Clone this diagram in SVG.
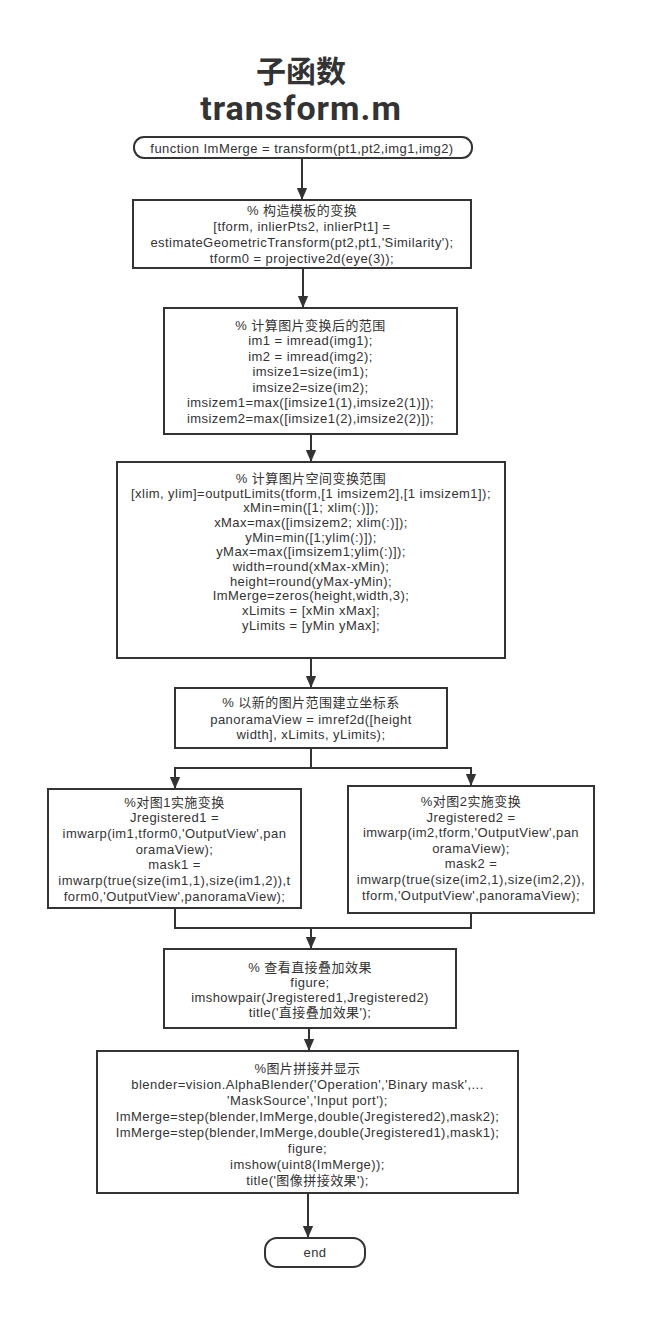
<svg xmlns="http://www.w3.org/2000/svg" width="656" height="1328" viewBox="0 0 656 1328">
<defs>
<marker id="ah" markerUnits="userSpaceOnUse" markerWidth="12" markerHeight="14" viewBox="0 0 14 12" refX="14" refY="6" orient="auto">
<path d="M0,0 L14,6 L0,12 Z" fill="#333"/>
</marker>
</defs>
<style>
.box{fill:#fff;stroke:#333;stroke-width:2}
.t{font-family:"Liberation Sans","Noto Sans CJK SC",sans-serif;font-size:13px;letter-spacing:0.45px;fill:#333;text-anchor:middle}
.title{font-weight:bold;fill:#333;text-anchor:middle}
.c{fill:none;stroke:#333;stroke-width:2}
</style>
<rect width="656" height="1328" fill="#fff"/>
<g id="title">
<text class="title" x="301" y="81.5" font-size="30" font-family="'Liberation Sans','Noto Sans CJK SC',sans-serif">子函数</text>
<text class="title" x="301" y="120" font-size="34" letter-spacing="1" font-family="Roboto,'Noto Sans',sans-serif">transform.m</text>
</g>
<g id="connectors">
<path class="c" d="M302,158 V200" marker-end="url(#ah)"/>
<path class="c" d="M303,268 V308" marker-end="url(#ah)"/>
<path class="c" d="M311,434 V462" marker-end="url(#ah)"/>
<path class="c" d="M311,658 V688" marker-end="url(#ah)"/>
<path class="c" d="M311,748 V768 H175 V789" marker-end="url(#ah)"/>
<path class="c" d="M311,768 H471 V786" marker-end="url(#ah)"/>
<path class="c" d="M175,908 V928 H471 V913"/>
<path class="c" d="M311,928 V949" marker-end="url(#ah)"/>
<path class="c" d="M309,1028 V1051" marker-end="url(#ah)"/>
<path class="c" d="M308,1193 V1238" marker-end="url(#ah)"/>
</g>
<g id="start">
<rect class="box" x="134" y="137" width="338" height="21" rx="10"/>
<text class="t" x="302" y="152.5">function ImMerge = transform(pt1,pt2,img1,img2)</text>
</g>
<g id="box2">
<rect class="box" x="133" y="200" width="338" height="68"/>
<text class="t" x="302" y="214.5">% 构造模板的变换</text>
<text class="t" x="302" y="230.5">[tform,  inlierPts2, inlierPt1] =</text>
<text class="t" x="302" y="246.5">estimateGeometricTransform(pt2,pt1,'Similarity');</text>
<text class="t" x="302" y="262.5">tform0 = projective2d(eye(3));</text>
</g>
<g id="box3">
<rect class="box" x="164" y="308" width="293" height="126"/>
<text class="t" x="310.5" y="329.5">% 计算图片变换后的范围</text>
<text class="t" x="310.5" y="345">im1 = imread(img1);</text>
<text class="t" x="310.5" y="360.5">im2 = imread(img2);</text>
<text class="t" x="310.5" y="376">imsize1=size(im1);</text>
<text class="t" x="310.5" y="391.5">imsize2=size(im2);</text>
<text class="t" x="310.5" y="407">imsizem1=max([imsize1(1),imsize2(1)]);</text>
<text class="t" x="310.5" y="422.5">imsizem2=max([imsize1(2),imsize2(2)]);</text>
</g>
<g id="box4">
<rect class="box" x="117" y="462" width="388" height="196"/>
<text class="t" x="311" y="482.8">% 计算图片空间变换范围</text>
<text class="t" x="311" y="497.5">[xlim, ylim]=outputLimits(tform,[1 imsizem2],[1 imsizem1]);</text>
<text class="t" x="311" y="512.2">xMin=min([1; xlim(:)]);</text>
<text class="t" x="311" y="526.9">xMax=max([imsizem2; xlim(:)]);</text>
<text class="t" x="311" y="541.6">yMin=min([1;ylim(:)]);</text>
<text class="t" x="311" y="556.3">yMax=max([imsizem1;ylim(:)]);</text>
<text class="t" x="311" y="571">width=round(xMax-xMin);</text>
<text class="t" x="311" y="585.7">height=round(yMax-yMin);</text>
<text class="t" x="311" y="600.4">ImMerge=zeros(height,width,3);</text>
<text class="t" x="311" y="615.1">xLimits = [xMin xMax];</text>
<text class="t" x="311" y="629.8">yLimits = [yMin yMax];</text>
</g>
<g id="box5">
<rect class="box" x="175" y="688" width="272" height="60"/>
<text class="t" x="311" y="707.2">% 以新的图片范围建立坐标系</text>
<text class="t" x="311" y="723.5">panoramaView = imref2d([height</text>
<text class="t" x="311" y="739">width], xLimits, yLimits);</text>
</g>
<g id="box6">
<rect class="box" x="48" y="789" width="253" height="119"/>
<text class="t" x="174.5" y="806.5">%对图1实施变换</text>
<text class="t" x="174.5" y="822.2">Jregistered1 =</text>
<text class="t" x="174.5" y="837.9">imwarp(im1,tform0,'OutputView',pan</text>
<text class="t" x="174.5" y="853.6">oramaView);</text>
<text class="t" x="174.5" y="869.3">mask1 =</text>
<text class="t" x="174.5" y="885">imwarp(true(size(im1,1),size(im1,2)),t</text>
<text class="t" x="174.5" y="900.7">form0,'OutputView',panoramaView);</text>
</g>
<g id="box7">
<rect class="box" x="348" y="786" width="246" height="127"/>
<text class="t" x="471" y="806.2">%对图2实施变换</text>
<text class="t" x="471" y="821.8">Jregistered2 =</text>
<text class="t" x="471" y="837.3">imwarp(im2,tform,'OutputView',pan</text>
<text class="t" x="471" y="852.9">oramaView);</text>
<text class="t" x="471" y="868.4">mask2 =</text>
<text class="t" x="471" y="884">imwarp(true(size(im2,1),size(im2,2)),</text>
<text class="t" x="471" y="899.5">tform,'OutputView',panoramaView);</text>
</g>
<g id="box8">
<rect class="box" x="164" y="949" width="292" height="79"/>
<text class="t" x="310" y="971.5">% 查看直接叠加效果</text>
<text class="t" x="310" y="986.5">figure;</text>
<text class="t" x="310" y="1001.5">imshowpair(Jregistered1,Jregistered2)</text>
<text class="t" x="310" y="1016.5">title('直接叠加效果');</text>
</g>
<g id="box9">
<rect class="box" x="97" y="1051" width="421" height="142"/>
<text class="t" x="307.5" y="1072.5">%图片拼接并显示</text>
<text class="t" x="307.5" y="1088.5">blender=vision.AlphaBlender('Operation','Binary mask',...</text>
<text class="t" x="307.5" y="1104.5">'MaskSource','Input port');</text>
<text class="t" x="307.5" y="1120.5">ImMerge=step(blender,ImMerge,double(Jregistered2),mask2);</text>
<text class="t" x="307.5" y="1136.5">ImMerge=step(blender,ImMerge,double(Jregistered1),mask1);</text>
<text class="t" x="307.5" y="1152.5">figure;</text>
<text class="t" x="307.5" y="1168.5">imshow(uint8(ImMerge));</text>
<text class="t" x="307.5" y="1184.5">title('图像拼接效果');</text>
</g>
<g id="end">
<rect class="box" x="265" y="1238" width="100" height="29" rx="12"/>
<text class="t" x="315" y="1257">end</text>
</g>
</svg>
